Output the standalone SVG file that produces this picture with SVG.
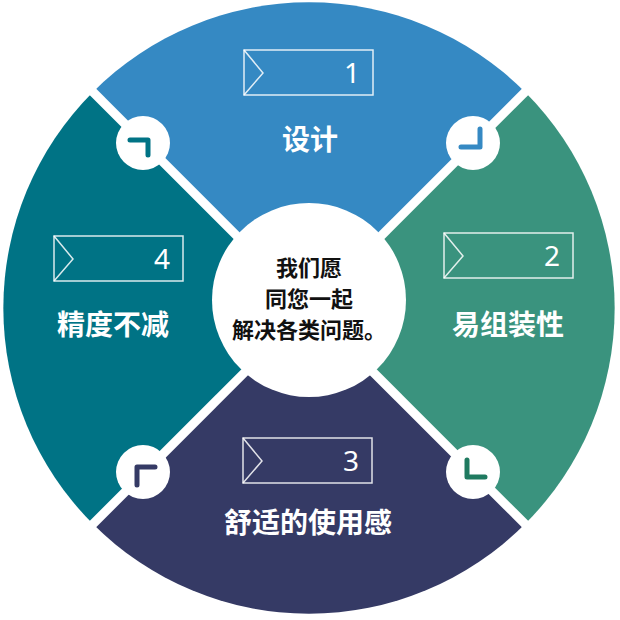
<svg xmlns="http://www.w3.org/2000/svg" width="620" height="620" viewBox="0 0 620 620">
<style>
.lbl{font-family:"Noto Sans CJK SC","Noto Sans",sans-serif;font-weight:bold;fill:#fff;font-size:28px;text-anchor:middle}
.num{font-family:"Noto Sans","Liberation Sans",sans-serif;fill:#fff;font-size:28px;text-anchor:middle}
.box{fill:none;stroke:#fff;stroke-width:1.5;opacity:.85}
.mk{fill:none;stroke-width:5;stroke-linecap:round;stroke-linejoin:round}
.ctr{font-family:"Noto Sans CJK SC",sans-serif;font-weight:bold;font-size:22px;fill:#111;text-anchor:middle}
</style>
<g id="sectors">
<path d="M309,308 L93,92 A305,305 0 0 1 525,92 Z" fill="#3589C3"/>
<path d="M309,308 L525,92 A305,305 0 0 1 525,524 Z" fill="#3A937E"/>
<path d="M309,308 L525,524 A305,305 0 0 1 93,524 Z" fill="#353A65"/>
<path d="M309,308 L93,524 A305,305 0 0 1 93,92 Z" fill="#007385"/>
</g>
<g id="connectors" stroke="#fff" stroke-width="9">
<line x1="309" y1="308" x2="80" y2="79"/>
<line x1="309" y1="308" x2="538" y2="79"/>
<line x1="309" y1="308" x2="538" y2="537"/>
<line x1="309" y1="308" x2="80" y2="537"/>
</g>
<g id="center">
<circle cx="309" cy="300" r="97" fill="#fff"/>
<text class="ctr" x="309" y="276">我们愿</text>
<text class="ctr" x="309" y="307">同您一起</text>
<text class="ctr" x="309" y="338">解决各类问题。</text>
</g>
<g id="n1"><rect class="box" x="244" y="50" width="129" height="45"/><polyline class="box" points="244,50 263,73 244,95"/><text class="num" x="352" y="83">1</text><text class="lbl" x="310" y="150">设计</text></g>
<g id="n2"><rect class="box" x="444" y="233" width="129" height="45"/><polyline class="box" points="444,233 463,256 444,278"/><text class="num" x="552" y="266">2</text><text class="lbl" x="508" y="335">易组装性</text></g>
<g id="n3"><rect class="box" x="243" y="438" width="129" height="45"/><polyline class="box" points="243,438 262,461 243,483"/><text class="num" x="351" y="471">3</text><text class="lbl" x="308" y="533">舒适的使用感</text></g>
<g id="n4"><rect class="box" x="54" y="236" width="129" height="45"/><polyline class="box" points="54,236 73,259 54,281"/><text class="num" x="162" y="269">4</text><text class="lbl" x="113" y="335">精度不减</text></g>
<g id="m1"><circle cx="143" cy="143" r="27" fill="#fff"/><polyline class="mk" stroke="#007385" points="130,140 148,140 148,155"/></g>
<g id="m2"><circle cx="473" cy="143" r="27" fill="#fff"/><polyline class="mk" stroke="#3589C3" points="480,129 480,147 461,147"/></g>
<g id="m3"><circle cx="473" cy="472" r="27" fill="#fff"/><polyline class="mk" stroke="#1F7A60" points="467,460 467,477 485,477"/></g>
<g id="m4"><circle cx="143" cy="472" r="27" fill="#fff"/><polyline class="mk" stroke="#353A65" points="137,485 137,467 155,467"/></g>
</svg>
